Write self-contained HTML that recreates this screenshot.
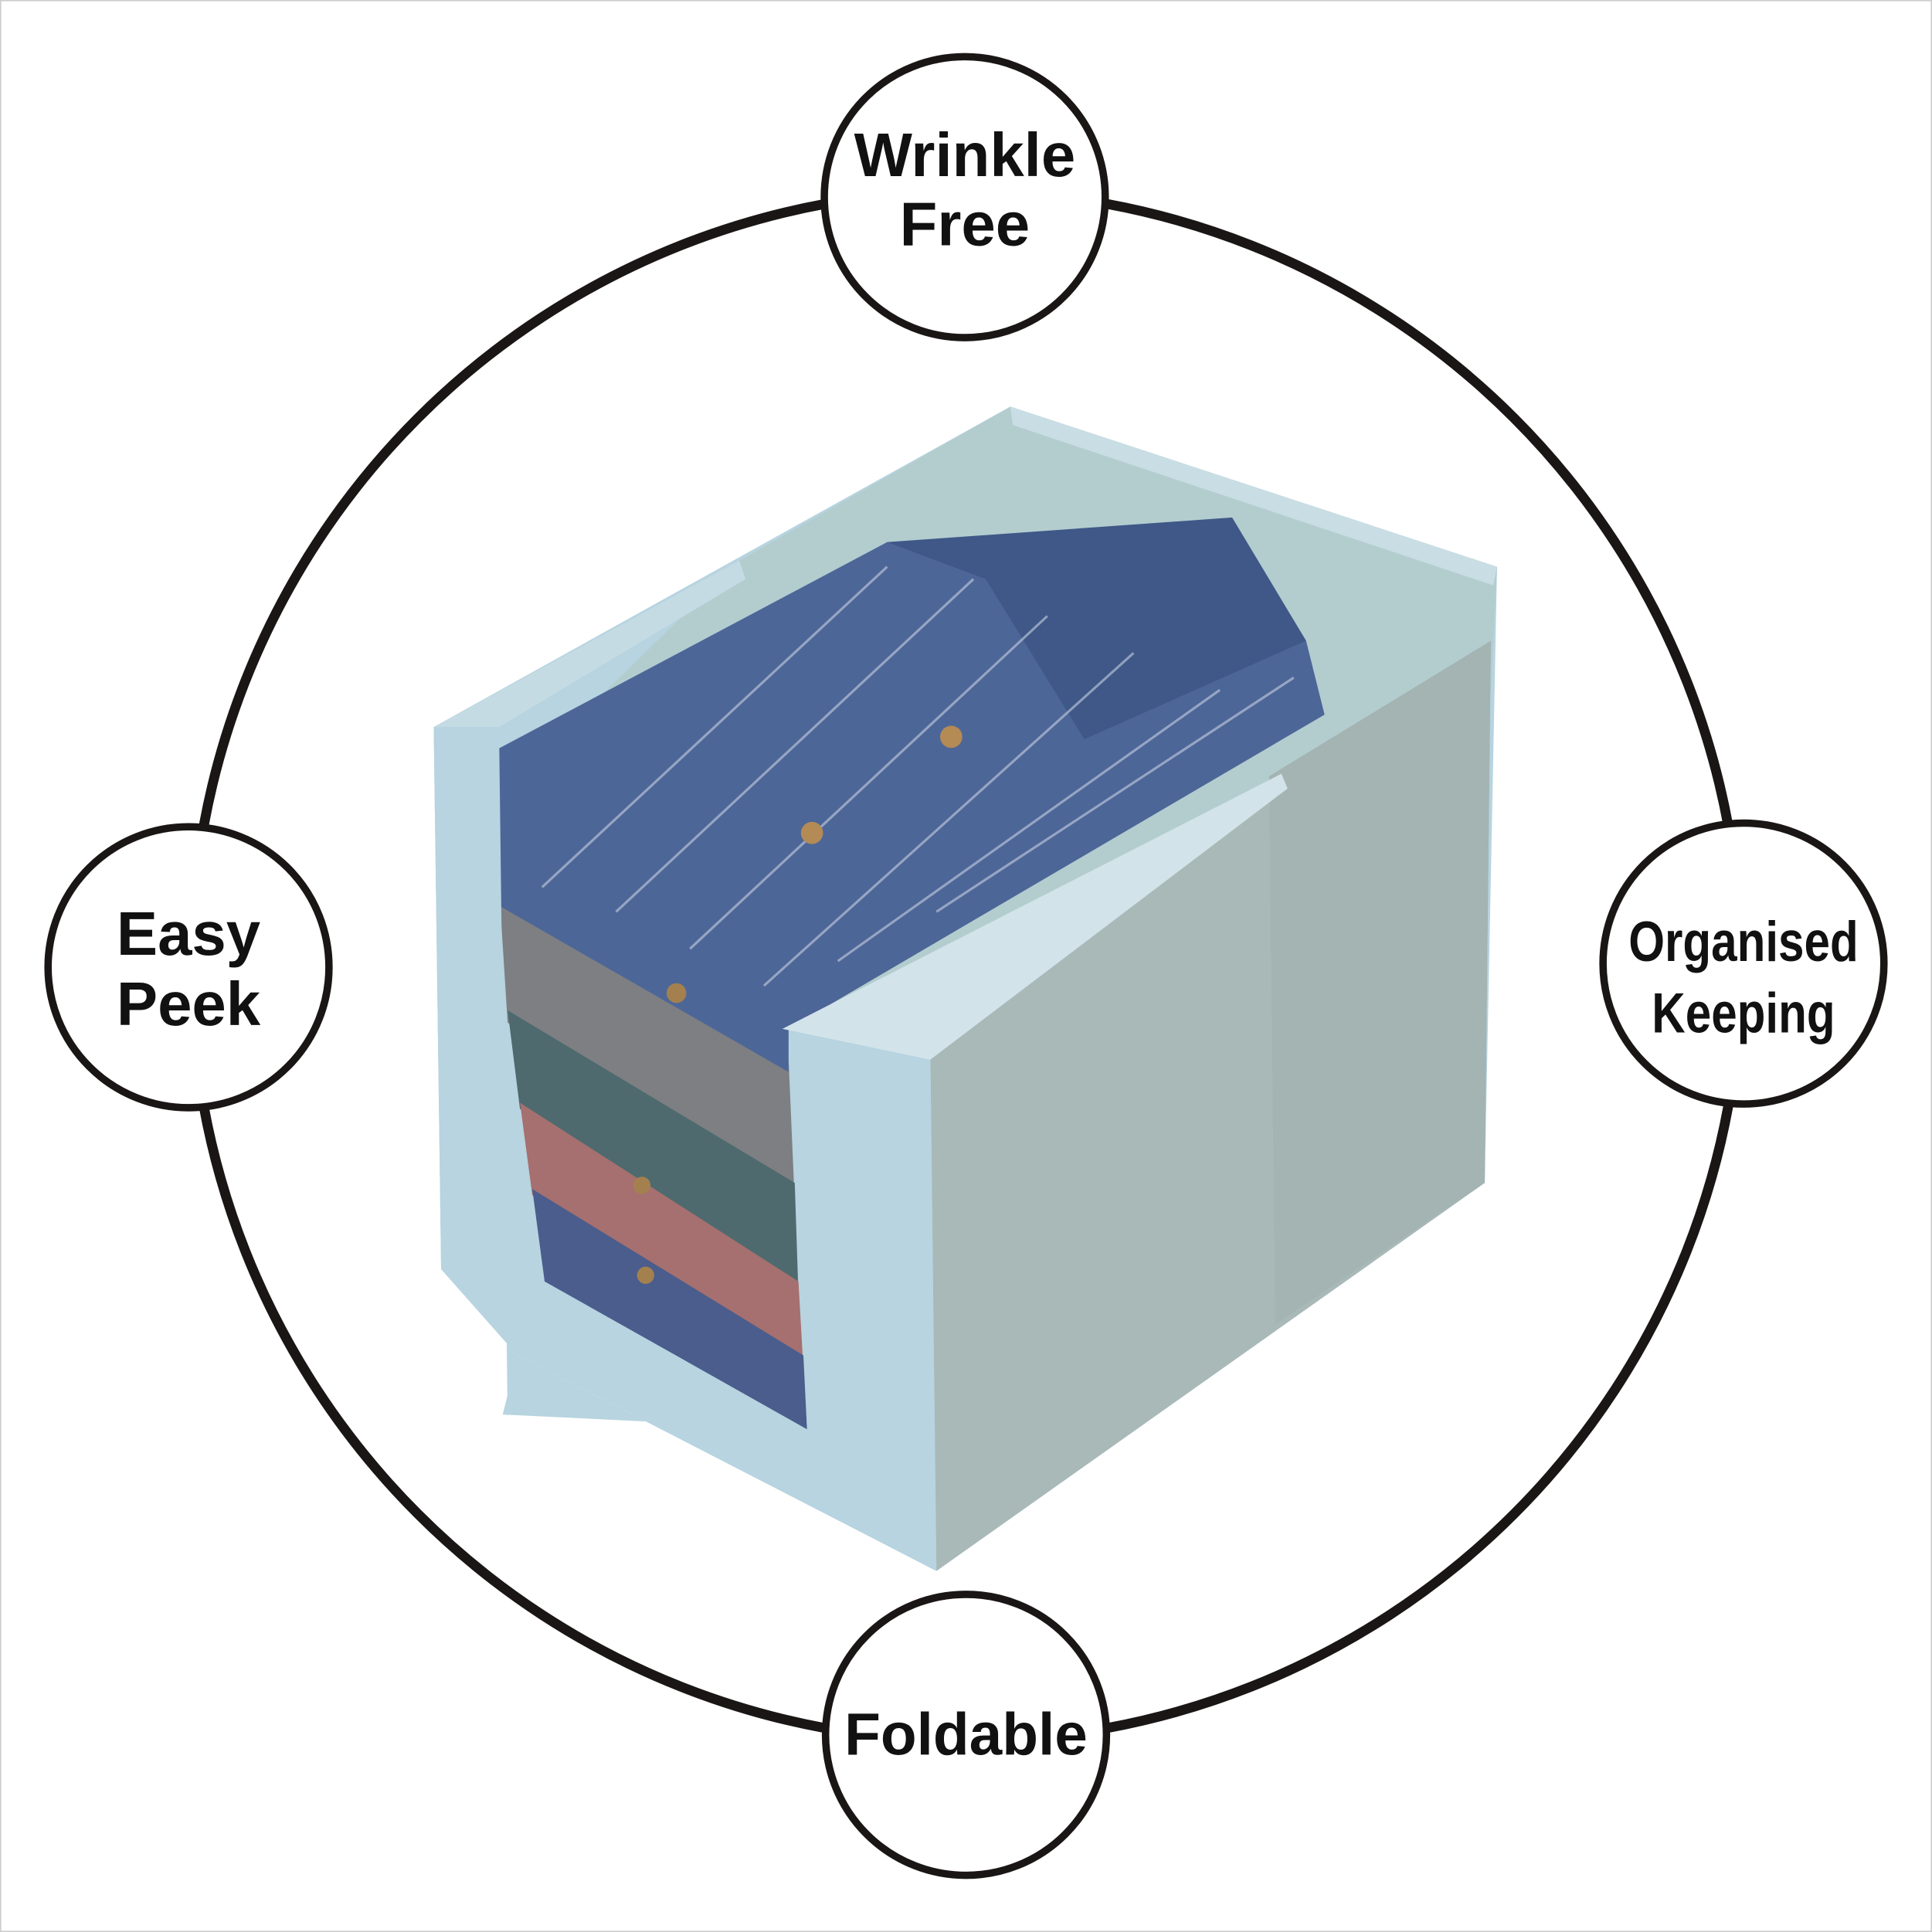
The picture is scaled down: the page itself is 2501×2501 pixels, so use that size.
<!DOCTYPE html>
<html><head><style>
html,body{margin:0;padding:0;background:#fff;}
svg{display:block}
text{font-family:"Liberation Sans",sans-serif;font-weight:bold;fill:#111;text-anchor:middle}
</style></head><body>
<svg width="2501" height="2501" viewBox="0 0 1568 1568" xmlns="http://www.w3.org/2000/svg">
<rect x="0.5" y="0.5" width="1567" height="1567" fill="#fff" stroke="#ccc" stroke-width="1"/>
<circle cx="784" cy="784" r="629" fill="none" stroke="#1a1616" stroke-width="8"/>
<!-- box base -->
<polygon points="352,590 820,330 1215,460 1205,960 760,1275 420,1100 358,1030" fill="#b7d4e0"/>
<polygon points="600,455 820,330 1215,460 1210,560 1040,640 640,840 400,650" fill="#b3cdcf"/>
<polygon points="820,330 1215,460 1212,475 822,345" fill="#c9dde4"/>
<polygon points="755,850 1210,520 1205,960 760,1275" fill="#a8b9b8"/>
<polygon points="1030,630 1210,520 1205,960 1035,1075" fill="#a3b4b3"/>
<polygon points="352,590 600,455 605,470 405,590" fill="#c4dbe4"/>
<!-- shirts -->
<polygon points="405,720 640,860 645,975 412,830" fill="#7d7f82"/>
<polygon points="412,820 645,960 648,1050 422,900" fill="#4e6a6e"/>
<polygon points="422,895 648,1040 652,1110 432,970" fill="#a5706f"/>
<polygon points="432,965 652,1100 655,1160 442,1040" fill="#4a5d8c"/>
<polygon points="400,610 720,440 1060,520 1075,580 640,835 640,870 405,735" fill="#4d6698"/>
<polygon points="720,440 1000,420 1030,470 1060,520 880,600 800,470" fill="#3f5888"/>
<g stroke="#c7d0e0" stroke-width="2" opacity="0.6">
<line x1="440" y1="720" x2="720" y2="460"/><line x1="500" y1="740" x2="790" y2="470"/>
<line x1="560" y1="770" x2="850" y2="500"/><line x1="620" y1="800" x2="920" y2="530"/>
<line x1="680" y1="780" x2="990" y2="560"/><line x1="760" y1="740" x2="1050" y2="550"/>
</g>
<circle cx="772" cy="598" r="9" fill="#b48a55"/><circle cx="659" cy="676" r="9" fill="#b48a55"/>
<circle cx="549" cy="806" r="8" fill="#a4804f"/><circle cx="521" cy="962" r="7" fill="#a4804f"/>
<circle cx="524" cy="1035" r="7" fill="#a4804f"/>
<!-- front frame -->
<polygon points="352,590 405,590 412,1150 420,1100 358,1030" fill="#b7d4e0"/>
<polygon points="408,1148 655,1160 760,1275 420,1100" fill="#b7d4e0"/>
<polygon points="640,835 755,850 760,1275 655,1160" fill="#b7d4e0"/>
<polygon points="635,835 1040,628 1045,640 755,860" fill="#d2e3ea"/>
<!-- nodes -->
<g fill="#fff" stroke="#1a1616" stroke-width="6">
<circle cx="783" cy="160" r="114"/>
<circle cx="153" cy="785" r="114"/>
<circle cx="1415" cy="782" r="114"/>
<circle cx="784" cy="1408" r="114"/>
</g>
<text x="783" y="143" font-size="50">Wrinkle</text>
<text x="783" y="199" font-size="50">Free</text>
<text x="153" y="775" font-size="50">Easy</text>
<text x="153" y="832" font-size="50">Peek</text>
<text x="1415" y="780" font-size="46" transform="translate(1415 0) scale(0.82 1) translate(-1415 0)">Organised</text>
<text x="1415" y="838" font-size="46" transform="translate(1415 0) scale(0.82 1) translate(-1415 0)">Keeping</text>
<text x="784" y="1424" font-size="48">Foldable</text>
</svg>
</body></html>
